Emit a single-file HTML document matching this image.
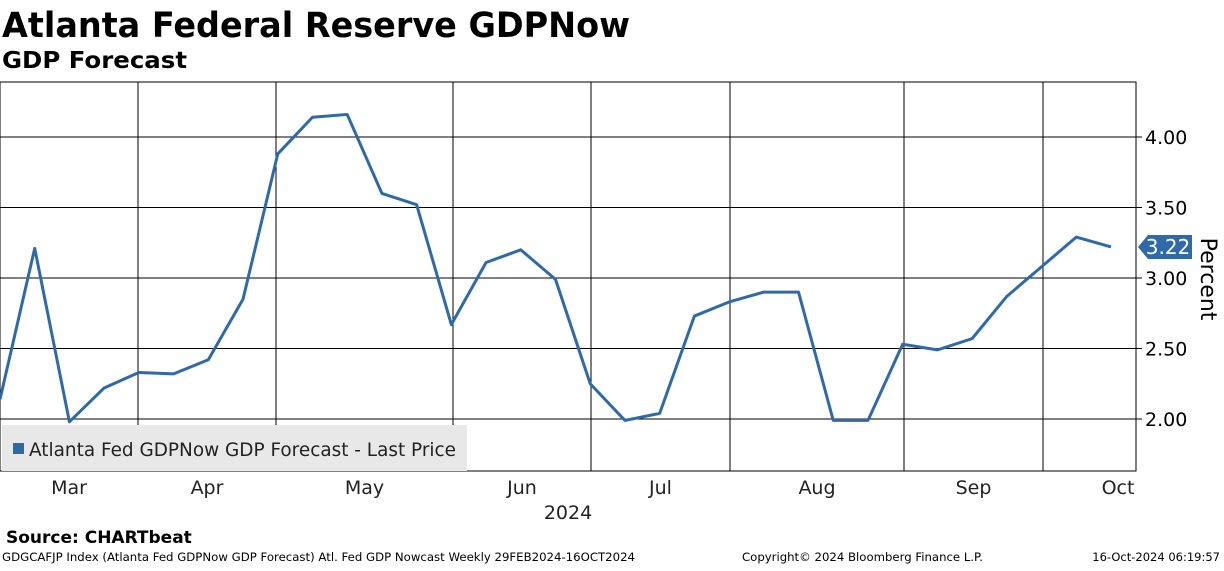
<!DOCTYPE html>
<html><head><meta charset="utf-8"><style>
body{margin:0;background:#fff;width:1224px;height:566px;overflow:hidden;font-family:"Liberation Sans",sans-serif}
svg text{font-family:"DejaVu Sans","Liberation Sans",sans-serif}
</style></head><body>
<svg width="1224" height="566">
<text x="2" y="37" font-size="35" font-weight="bold" textLength="628" lengthAdjust="spacingAndGlyphs">Atlanta Federal Reserve GDPNow</text>
<text x="2" y="68" font-size="23" font-weight="bold" textLength="185" lengthAdjust="spacingAndGlyphs">GDP Forecast</text>
<g id="grid"></g>
<rect x="0" y="82" width="1136" height="389" fill="none" stroke="#000" stroke-width="1"/>
<g id="yticks"></g>
<g id="xticks"></g>
<text x="568" y="519" font-size="19" text-anchor="middle" fill="#222">2024</text>
<text transform="translate(1201,279) rotate(90)" font-size="22" text-anchor="middle">Percent</text>
<polyline id="line" fill="none" stroke="#2f6aa8" stroke-width="3" stroke-linejoin="round"/>
<g>
<polygon id="tag" fill="#2f6aa8"/>
<text id="tagtxt" x="1168" font-size="20" fill="#fff" text-anchor="middle"></text>
</g>
<g>
<rect x="2" y="425" width="465" height="46" fill="#e8e8e8"/>
<rect x="13" y="443" width="11" height="11" fill="#2f6aa8"/>
<text x="29" y="456" font-size="19" fill="#222" textLength="427" lengthAdjust="spacingAndGlyphs">Atlanta Fed GDPNow GDP Forecast - Last Price</text>
</g>
<text x="6" y="543" font-size="17" font-weight="bold">Source: CHARTbeat</text>
<text x="2" y="561" font-size="11.5" textLength="633" lengthAdjust="spacingAndGlyphs">GDGCAFJP Index (Atlanta Fed GDPNow GDP Forecast) Atl. Fed GDP Nowcast  Weekly 29FEB2024-16OCT2024</text>
<text x="742" y="561" font-size="11.5" textLength="241" lengthAdjust="spacingAndGlyphs">Copyright© 2024 Bloomberg Finance L.P.</text>
<text x="1220" y="561" font-size="11.5" text-anchor="end">16-Oct-2024 06:19:57</text>
</svg>
<script>
const values=[2.14,3.21,1.98,2.22,2.33,2.32,2.42,2.85,3.88,4.14,4.16,3.6,3.52,2.67,3.11,3.2,2.99,2.25,1.99,2.04,2.73,2.83,2.9,2.9,1.99,1.99,2.53,2.49,2.57,2.87,3.08,3.29,3.22];
const yTicks=[2.0,2.5,3.0,3.5,4.0];
const months=["Mar","Apr","May","Jun","Jul","Aug","Sep","Oct"];
const monthBounds=[0,138,276,453,591,730,904,1043,1136];
const yS=v=>419-(v-2)*141;
const xS=i=>i*1111/(values.length-1);
const NS="http://www.w3.org/2000/svg";
const grid=document.getElementById('grid'),yt=document.getElementById('yticks'),xt=document.getElementById('xticks');
yTicks.forEach(v=>{
 const l=document.createElementNS(NS,'line');l.setAttribute('x1',0);l.setAttribute('x2',1136);l.setAttribute('y1',yS(v));l.setAttribute('y2',yS(v));l.setAttribute('stroke','#000');
 
 
 grid.appendChild(l);
 const k=document.createElementNS(NS,'line');k.setAttribute('x1',1136);k.setAttribute('x2',1142);k.setAttribute('y1',yS(v));k.setAttribute('y2',yS(v));k.setAttribute('stroke','#000');yt.appendChild(k);
 const t=document.createElementNS(NS,'text');t.setAttribute('x',1145);t.setAttribute('y',yS(v)+7);t.setAttribute('font-size',19);t.textContent=v.toFixed(2);
 
 
 yt.appendChild(t);
});
monthBounds.slice(1,-1).forEach(x=>{
 const l=document.createElementNS(NS,'line');l.setAttribute('x1',x);l.setAttribute('x2',x);l.setAttribute('y1',82);l.setAttribute('y2',471);l.setAttribute('stroke','#000');
 
 
 grid.appendChild(l);
});
months.forEach((m,i)=>{
 const t=document.createElementNS(NS,'text');
 const cx=i==months.length-1?1118:(i==0?69:(monthBounds[i]+monthBounds[i+1])/2);
 t.setAttribute('x',cx);t.setAttribute('y',494);t.setAttribute('font-size',19);t.setAttribute('text-anchor','middle');t.setAttribute('fill','#222');t.textContent=m;
 
 
 xt.appendChild(t);
});
document.getElementById('line').setAttribute('points',values.map((v,i)=>xS(i)+','+yS(v)).join(' '));
const last=values[values.length-1],ly=yS(last);
document.getElementById('tag').setAttribute('points',`1138,${ly} 1148,${ly-12} 1192,${ly-12} 1192,${ly+12} 1148,${ly+12}`);
const tt=document.getElementById('tagtxt');tt.setAttribute('y',ly+7);tt.textContent=last.toFixed(2);
</script>
</body></html>
